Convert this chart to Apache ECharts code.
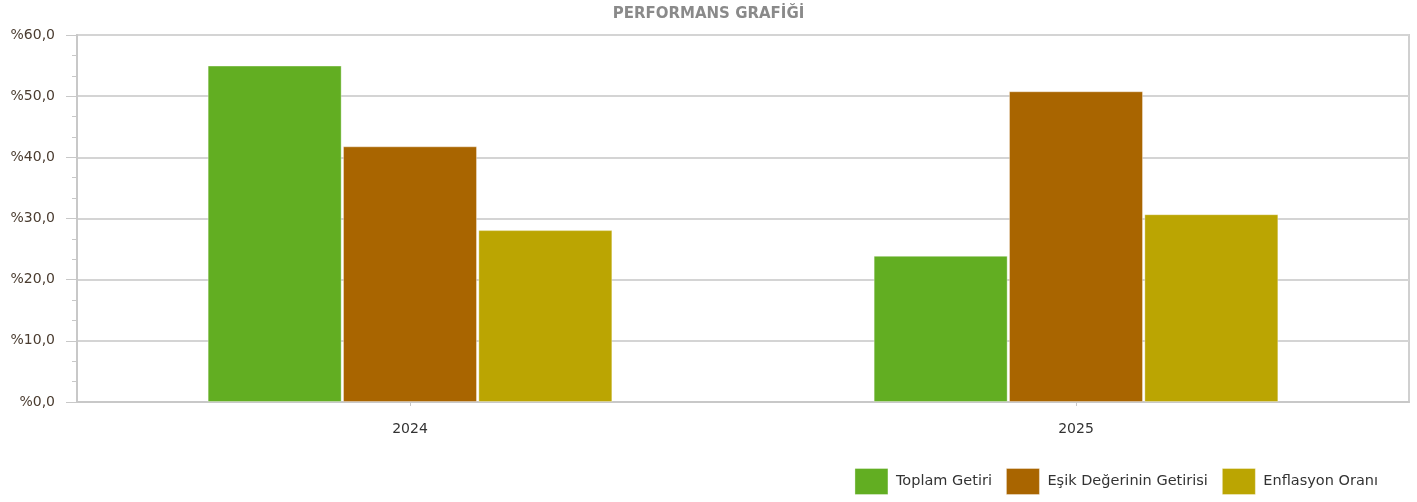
<!DOCTYPE html>
<html>
  <head>
	<meta charset="UTF-8">
	<title>Performans Grafiği</title>
	<script src="https://cdn.jsdelivr.net/npm/echarts@6/dist/echarts.min.js"></script>
	<style>
	  html, body { margin: 0; padding: 0; background: #fff; }
	  #chart { width: 1417px; height: 502px; }
	</style>
  </head>
  <body>
	<div id="chart"></div>
	<script type="text/javascript">
	 // veriler
	 var years = ['2024', '2025'];
	 var toplamGetiri = [55.0, 23.9];
	 var esikGetiri = [41.8, 50.8];
	 var enflasyon = [28.1, 30.7];
	 var seriesNames = ['Toplam Getiri', 'Eşik Değerinin Getirisi', 'Enflasyon Oranı'];
	 var colors = ['#62ae22', '#a96500', '#bba502'];

	 var chart = echarts.init(document.getElementById('chart'));
	 var font = 'Tahoma, "DejaVu Sans", sans-serif';

	 function bar(name, data, color) {
	   return {
		 name: name,
		 type: 'bar',
		 data: data,
		 barWidth: 134,
		 barGap: '1%',
		 itemStyle: {
		   color: color,
		   borderColor: 'rgba(255,255,255,0.35)',
		   borderWidth: 1
		 }
	   };
	 }

	 chart.setOption({
	   animation: false,
	   color: colors,
	   title: {
		 text: 'PERFORMANS GRAFİĞİ',
		 left: 'center',
		 top: 2,
		 textStyle: { fontFamily: font, fontSize: 15, fontWeight: 'bold', color: '#8a8a8a' }
	   },
	   legend: {
		 right: 34,
		 bottom: 2,
		 icon: 'rect',
		 itemWidth: 33,
		 itemHeight: 26,
		 itemGap: 14,
		 textStyle: { fontFamily: font, fontSize: 14.5, color: '#333', padding: [0, 0, 0, 3] },
		 itemStyle: { borderColor: 'rgba(255,255,255,0.35)', borderWidth: 1 },
		 data: seriesNames
	   },
	   grid: {
		 left: 77, right: 8, top: 35, bottom: 100,
		 show: true, borderColor: '#d0d0d0', borderWidth: 2,
		 containLabel: false
	   },
	   xAxis: {
		 type: 'category',
		 data: years,
		 axisTick: { show: true, alignWithLabel: true, length: 4, lineStyle: { color: '#c8c8c8' } },
		 axisLine: { lineStyle: { color: '#c8c8c8', width: 2 } },
		 axisLabel: { fontFamily: font, fontSize: 14, color: '#333', margin: 20 }
	   },
	   yAxis: {
		 type: 'value',
		 min: 0,
		 max: 60,
		 interval: 10,
		 axisLine: { show: true, lineStyle: { color: '#c8c8c8', width: 2 } },
		 axisTick: { show: true, length: 11, lineStyle: { color: '#c8c8c8', width: 1 } },
		 minorTick: { show: true, splitNumber: 3, length: 5, lineStyle: { color: '#c8c8c8' } },
		 splitLine: { lineStyle: { color: '#d4d4d4', width: 2 } },
		 axisLabel: {
		   fontFamily: font, fontSize: 14, color: '#4a3c30', margin: 22,
		   formatter: function (v) { return '%' + v.toFixed(1).replace('.', ','); }
		 }
	   },
	   series: [
		 bar(seriesNames[0], toplamGetiri, colors[0]),
		 bar(seriesNames[1], esikGetiri, colors[1]),
		 bar(seriesNames[2], enflasyon, colors[2])
	   ]
	 });
	</script>
  </body>
</html>
